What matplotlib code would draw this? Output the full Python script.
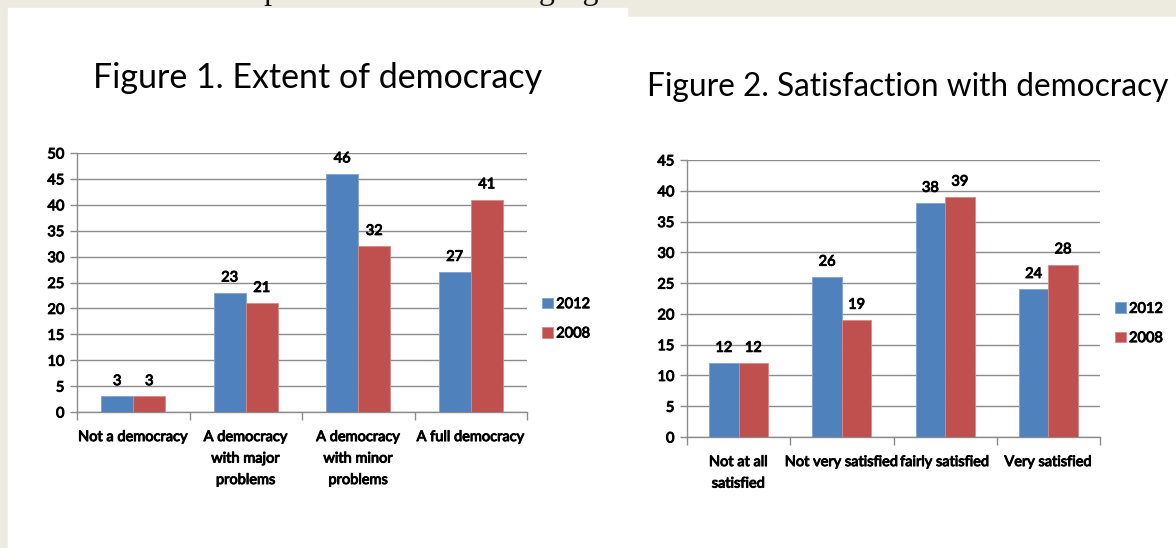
import matplotlib.pyplot as plt
import matplotlib.patheffects as pe
from matplotlib.patches import Rectangle

plt.rcParams['font.family'] = ['Lato', 'DejaVu Sans']

# figure 1 data
extent_cats = ['Not a democracy', 'A democracy\nwith major\nproblems',
               'A democracy\nwith minor\nproblems', 'A full democracy']
extent_2012 = [3, 23, 46, 27]
extent_2008 = [3, 21, 32, 41]

# figure 2 data
satis_cats = ['Not at all\nsatisfied', 'Not very satisfied',
              'fairly satisfied', 'Very satisfied']
satis_2012 = [12, 26, 38, 24]
satis_2008 = [12, 19, 39, 28]

years = ['2012', '2008']
BLUE = '#4F81BD'
RED = '#C0504D'
GRID = '#8C8C8C'
BEIGE = '#EDEAE0'

# only a regular Lato is around, so thicken it with a stroke
BOLD = [pe.withStroke(linewidth=0.7, foreground='black')]

W, H = 1176, 548
fig = plt.figure(figsize=(W / 100, H / 100), dpi=100, facecolor=BEIGE)

# white page area
fig.add_artist(Rectangle((8 / W, 0), (627 - 8) / W, (H - 8) / H,
                         transform=fig.transFigure, color='white', zorder=0))
fig.add_artist(Rectangle((627 / W, 0), (W - 627) / W, (H - 17) / H,
                         transform=fig.transFigure, color='white', zorder=0))

# the sentence above the figures, cut off at the top edge
fig.text(11 / W, 1 + 0.5 / H, 'These results are depicted in the following figures.',
         family='Liberation Serif', fontsize=23, color='#111111',
         ha='left', va='baseline')


def bar_chart(rect, cats, a, b, ymax, title, title_xy, title_size, legend_y):
    ax = fig.add_axes(rect)
    ax.set_facecolor('none')
    x = list(range(len(cats)))
    w = 0.285
    b1 = ax.bar([i - w / 2 for i in x], a, w, color=BLUE, edgecolor='#7FA3D1',
                linewidth=0.6, label=years[0], zorder=3)
    b2 = ax.bar([i + w / 2 for i in x], b, w, color=RED, edgecolor='#D98886',
                linewidth=0.6, label=years[1], zorder=3)
    for bars in (b1, b2):
        for t in ax.bar_label(bars, padding=6, fontsize=10.5):
            t.set_path_effects(BOLD)

    ax.set_xlim(-0.5, len(cats) - 0.5)
    ax.set_ylim(0, ymax)
    ax.set_yticks(range(0, ymax + 1, 5))
    ax.yaxis.grid(True, color=GRID, linewidth=1.0, zorder=0)
    ax.set_axisbelow(True)

    # category boundaries get the tick marks, names sit between them
    ax.set_xticks([i - 0.5 for i in range(len(cats) + 1)])
    ax.set_xticklabels([])
    ax.set_xticks(x, minor=True)
    ax.set_xticklabels(cats, minor=True, fontsize=10.5,
                       linespacing=1.68, va='top')
    ax.tick_params(axis='x', which='major', length=6, color=GRID, width=1)
    ax.tick_params(axis='x', which='minor', length=0, pad=13)
    ax.tick_params(axis='y', length=5, color=GRID, width=1, pad=4,
                   labelsize=10.5)
    for lab in ax.get_yticklabels() + ax.get_xticklabels(minor=True):
        lab.set_path_effects(BOLD)

    for s in ('top', 'right'):
        ax.spines[s].set_visible(False)
    for s in ('left', 'bottom'):
        ax.spines[s].set_color(GRID)
        ax.spines[s].set_linewidth(1)

    leg = ax.legend(loc='center left', bbox_to_anchor=(1.005, legend_y),
                    frameon=False, handlelength=0.75, handleheight=0.75,
                    handletextpad=0.2, labelspacing=1.05,
                    prop={'size': 10.5}, borderaxespad=0.5)
    for t in leg.get_texts():
        t.set_path_effects(BOLD)

    fig.text(title_xy[0] / W, 1 - title_xy[1] / H, title, fontsize=title_size,
             ha='center', va='center')
    return ax


bar_chart([77 / W, 1 - 412 / H, 450 / W, 259 / H], extent_cats,
          extent_2012, extent_2008, 50, 'Figure 1. Extent of democracy',
          (318, 78), 24.5, 0.36)
bar_chart([687 / W, 1 - 437 / H, 413 / W, 277 / H], satis_cats,
          satis_2012, satis_2008, 45, 'Figure 2. Satisfaction with democracy',
          (908, 87), 22.8, 0.41)

fig.savefig('out.png', dpi=100, facecolor=BEIGE)
